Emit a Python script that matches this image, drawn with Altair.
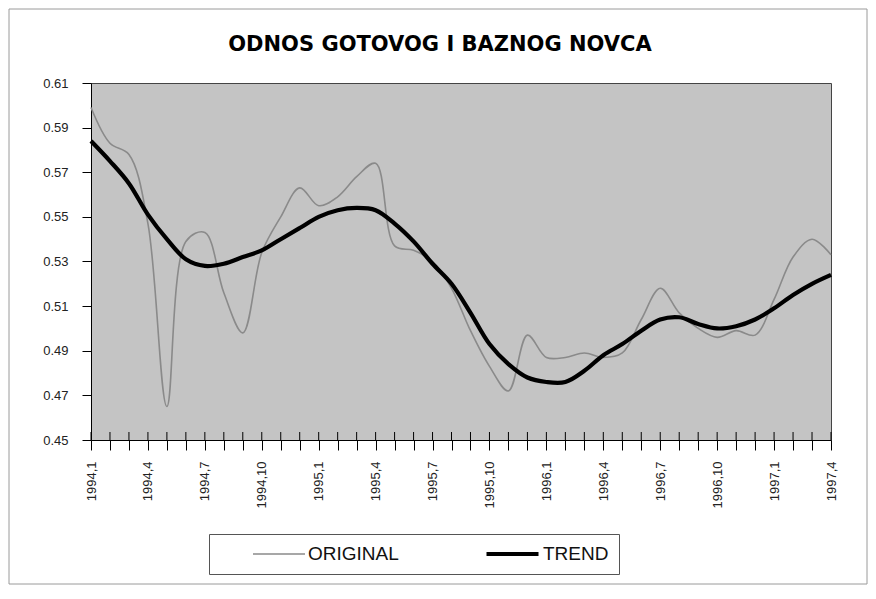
import json
import altair as alt
import pandas as pd

months = [
    "1994,1", "1994,2", "1994,3", "1994,4", "1994,5", "1994,6", "1994,7", "1994,8", "1994,9", "1994,10", "1994,11", "1994,12",
    "1995,1", "1995,2", "1995,3", "1995,4", "1995,5", "1995,6", "1995,7", "1995,8", "1995,9", "1995,10", "1995,11", "1995,12",
    "1996,1", "1996,2", "1996,3", "1996,4", "1996,5", "1996,6", "1996,7", "1996,8", "1996,9", "1996,10", "1996,11", "1996,12",
    "1997,1", "1997,2", "1997,3", "1997,4",
]
shown_labels = [
    "1994,1", "1994,4", "1994,7", "1994,10", "1995,1", "1995,4", "1995,7",
    "1995,10", "1996,1", "1996,4", "1996,7", "1996,10", "1997,1", "1997,4",
]
original = [
    0.599, 0.583, 0.578, 0.547, 0.465, 0.539, 0.543, 0.516, 0.498, 0.534,
    0.550, 0.563, 0.555, 0.559, 0.568, 0.574, 0.537, 0.535, 0.530, 0.518,
    0.499, 0.483, 0.472, 0.497, 0.487, 0.487, 0.489, 0.487, 0.489, 0.504,
    0.518, 0.507, 0.500, 0.496, 0.499, 0.497, 0.513, 0.532, 0.540, 0.533,
]
trend = [
    0.584, 0.575, 0.565, 0.551, 0.540, 0.531, 0.528, 0.529, 0.532, 0.535,
    0.540, 0.545, 0.550, 0.553, 0.554, 0.553, 0.547, 0.539, 0.529, 0.520,
    0.507, 0.493, 0.484, 0.478, 0.476, 0.476, 0.481, 0.488, 0.493, 0.499,
    0.504, 0.505, 0.502, 0.500, 0.501, 0.504, 0.509, 0.515, 0.520, 0.524,
]
series_names = ["ORIGINAL", "TREND"]
series_colors = ["#8a8a8a", "#000000"]
series_widths = [1.6, 4.2]
y_ticks = [0.45, 0.47, 0.49, 0.51, 0.53, 0.55, 0.57, 0.59, 0.61]

W, H = 740, 357

df = pd.DataFrame({
    "month": months * 2,
    "value": original + trend,
    "series": [series_names[0]] * len(months) + [series_names[1]] * len(months),
    "order": list(range(len(months))) * 2,
})
ticks_df = pd.DataFrame({"month": months})
frame_df = pd.DataFrame({"k": [0]})

label_expr = "indexof(" + json.dumps(shown_labels) + ", datum.label) >= 0 ? datum.label : ''"

x_scale = alt.Scale(type="point", domain=months, padding=0)

legend = alt.Legend(
    title=None,
    orient="none",
    legendX=118,
    legendY=451,
    direction="horizontal",
    symbolType="stroke",
    symbolSize=2704,
    symbolOffset=33,
    clipHeight=20,
    labelFont="Liberation Sans",
    labelFontSize=19,
    labelColor="#111111",
    labelOffset=2,
    columnPadding=52,
    padding=10,
    strokeColor="#555555",
    fillColor="#ffffff",
)

lines = alt.Chart(df).mark_line(interpolate="catmull-rom").encode(
    x=alt.X(
        "month:O",
        scale=x_scale,
        title=None,
        axis=alt.Axis(
            values=months,
            labelExpr=label_expr,
            labelAngle=-90,
            labelFont="Liberation Sans",
            labelFontSize=13,
            labelColor="#222222",
            labelPadding=11,
            tickSize=10,
            tickColor="#000000",
            domainColor="#000000",
            grid=False,
        ),
    ),
    y=alt.Y(
        "value:Q",
        scale=alt.Scale(domain=[0.45, 0.61], nice=False, zero=False),
        title=None,
        axis=alt.Axis(
            values=y_ticks,
            format=".2f",
            labelFont="Liberation Sans",
            labelFontSize=13,
            labelColor="#222222",
            labelPadding=14,
            tickSize=9,
            tickColor="#000000",
            domainColor="#000000",
            grid=False,
        ),
    ),
    color=alt.Color("series:N", scale=alt.Scale(domain=series_names, range=series_colors), legend=legend),
    strokeWidth=alt.StrokeWidth("series:N", scale=alt.Scale(domain=series_names, range=series_widths), legend=legend),
    order="order:Q",
)

inner_ticks = alt.Chart(ticks_df).mark_rule(color="#000000", strokeWidth=1).encode(
    x=alt.X("month:O", scale=x_scale),
    y=alt.value(H - 8),
    y2=alt.value(H),
)

frame = alt.Chart(frame_df).mark_rect(fillOpacity=0, stroke="#9a9a9a", strokeWidth=1).encode(
    x=alt.value(-82),
    x2=alt.value(776),
    y=alt.value(-74),
    y2=alt.value(501),
)

chart = alt.layer(frame, lines, inner_ticks).properties(
    width=W,
    height=H,
    background="#ffffff",
    autosize=alt.AutoSizeParams(type="none"),
    padding={"left": 83, "top": 75, "right": 37, "bottom": 145},
    title=alt.TitleParams(
        "ODNOS GOTOVOG I BAZNOG NOVCA",
        font="DejaVu Sans",
        fontSize=21,
        fontWeight="bold",
        color="#000000",
        anchor="middle",
        frame="bounds",
        dx=2,
        offset=-46,
    ),
).configure_view(
    fill="#c4c4c4",
    stroke="#444444",
    strokeWidth=1,
)

chart.save("out.html", embed_options={"renderer": "svg", "actions": False})
